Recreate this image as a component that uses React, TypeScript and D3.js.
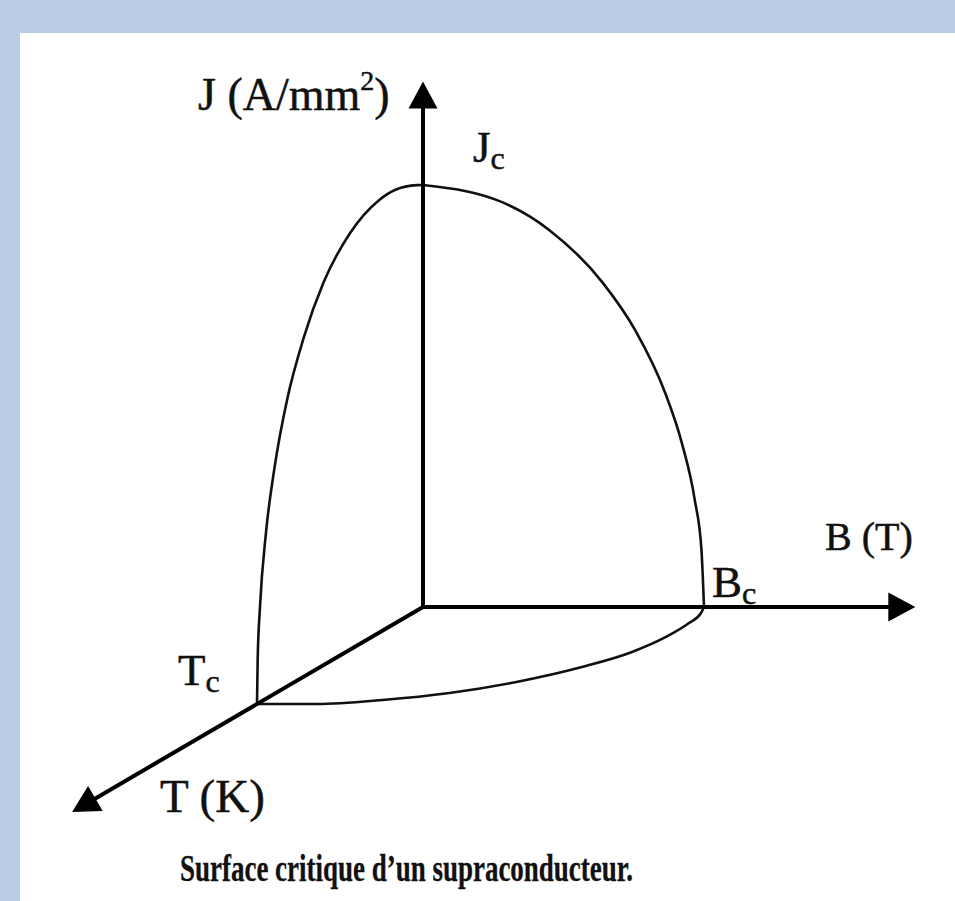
import React, { useEffect, useRef } from 'react';
import * as d3 from 'd3';

// critical surface, normalised units (Tc = Bc = Jc = 1)
// J-T edge (B = 0)
const jtT = [0, 0.036, 0.169, 0.265, 0.44, 0.6, 0.717, 0.819, 0.894, 0.946, 0.982, 0.996, 1];
const jtJ = [1, 1.008, 1.027, 1.025, 0.987, 0.906, 0.805, 0.679, 0.537, 0.393, 0.226, 0.103, 0];
// J-B edge (T = 0)
const jbB = [0, 0.29, 0.45, 0.64, 0.755, 0.862, 0.921, 0.967, 0.991, 1];
const jbJ = [1, 0.957, 0.893, 0.768, 0.656, 0.507, 0.389, 0.254, 0.135, 0];
// T-B edge (J = 0)
const tbT = [1, 1, 0.959, 0.887, 0.773, 0.619, 0.464, 0.309, 0.165, 0.062, 0];
const tbB = [0, 0.213, 0.423, 0.618, 0.789, 0.931, 1.018, 1.047, 1.044, 1.026, 1];

// axis extents
const axisKeys = ['J', 'B', 'T'];
const axisEnds = [1.245, 1.752, 2.114];
const axisLabels = ['J (A/mm', 'B (T)', 'T (K)'];
const criticalLabels = ['J', 'B', 'T'];
const caption = 'Surface critique d\u2019un supraconducteur.';

const W = 955;
const H = 901;

export default function App() {
  const ref = useRef<SVGSVGElement>(null);

  useEffect(() => {
    const svg = d3.select(ref.current);
    svg.selectAll('*').remove();

    svg.append('rect').attr('width', W).attr('height', H).attr('fill', '#b9cde4');
    svg.append('rect').attr('x', 20).attr('y', 33).attr('width', W - 20).attr('height', H - 33).attr('fill', '#fff');

    const bX = d3.scaleLinear().domain([0, 1]).range([423, 704]);
    const jY = d3.scaleLinear().domain([0, 1]).range([607, 185]);
    const tX = d3.scaleLinear().domain([0, 1]).range([0, -166]);
    const tY = d3.scaleLinear().domain([0, 1]).range([0, 97]);

    const project = (t: number, b: number, j: number): [number, number] => [bX(b) + tX(t), jY(j) + tY(t)];

    const line = d3
      .line<[number, number]>()
      .x(d => d[0])
      .y(d => d[1])
      .curve(d3.curveMonotoneX);

    // every edge ordered left to right on screen
    const curves = [
      jtT.map((t, i) => project(t, 0, jtJ[i])).reverse(),
      jbB.map((b, i) => project(0, b, jbJ[i])),
      tbT.map((t, i) => project(t, tbB[i], 0)),
    ];

    svg
      .selectAll('path.edge')
      .data(curves)
      .enter()
      .append('path')
      .attr('class', 'edge')
      .attr('d', d => line(d))
      .attr('fill', 'none')
      .attr('stroke', '#111')
      .attr('stroke-width', 2.6);

    // axes with arrowheads
    const origin = project(0, 0, 0);
    axisKeys.forEach((k, i) => {
      const v = axisEnds[i];
      const tip = k === 'J' ? project(0, 0, v) : k === 'B' ? project(0, v, 0) : project(v, 0, 0);
      const dx = tip[0] - origin[0];
      const dy = tip[1] - origin[1];
      const len = Math.hypot(dx, dy);
      const ux = dx / len;
      const uy = dy / len;
      const hl = 27;
      const hw = 14.5;
      const base: [number, number] = [tip[0] - ux * hl, tip[1] - uy * hl];
      svg
        .append('line')
        .attr('x1', origin[0])
        .attr('y1', origin[1])
        .attr('x2', base[0] + ux * 2)
        .attr('y2', base[1] + uy * 2)
        .attr('stroke', '#000')
        .attr('stroke-width', 4);
      svg
        .append('path')
        .attr(
          'd',
          `M${tip[0]},${tip[1]}L${base[0] - uy * hw},${base[1] + ux * hw}L${base[0] + uy * hw},${base[1] - ux * hw}Z`
        )
        .attr('fill', '#000');
    });

    const font = '"Liberation Serif", "Times New Roman", serif';
    const txt = (x: number, y: number, size: number) =>
      svg
        .append('text')
        .attr('x', x)
        .attr('y', y)
        .attr('font-family', font)
        .attr('font-size', size)
        .attr('fill', '#111')
        .attr('stroke', '#111')
        .attr('stroke-width', 0.5);

    // axis labels
    const jLab = txt(198, 110, 46);
    jLab.append('tspan').text(axisLabels[0]);
    jLab.append('tspan').attr('dy', -20).attr('font-size', 28).text('2');
    jLab.append('tspan').attr('dy', 20).text(')');

    txt(825, 550, 40).text(axisLabels[1]);
    txt(160, 812, 47).text(axisLabels[2]);

    // critical values
    const critPos: [number, number][] = [
      [473, 162],
      [712, 597],
      [178, 685],
    ];
    criticalLabels.forEach((c, i) => {
      const t = txt(critPos[i][0], critPos[i][1], 45);
      t.append('tspan').text(c);
      t.append('tspan').attr('dy', 7).attr('font-size', 32).text('c');
    });

    txt(180, 881, 38)
      .attr('font-weight', 'bold')
      .attr('stroke-width', 0.3)
      .attr('textLength', 453)
      .attr('lengthAdjust', 'spacingAndGlyphs')
      .text(caption);
  }, []);

  return (
    <svg
      ref={ref}
      width={W}
      height={H}
      style={{ position: 'absolute', left: 0, top: 0, display: 'block' }}
    />
  );
}
